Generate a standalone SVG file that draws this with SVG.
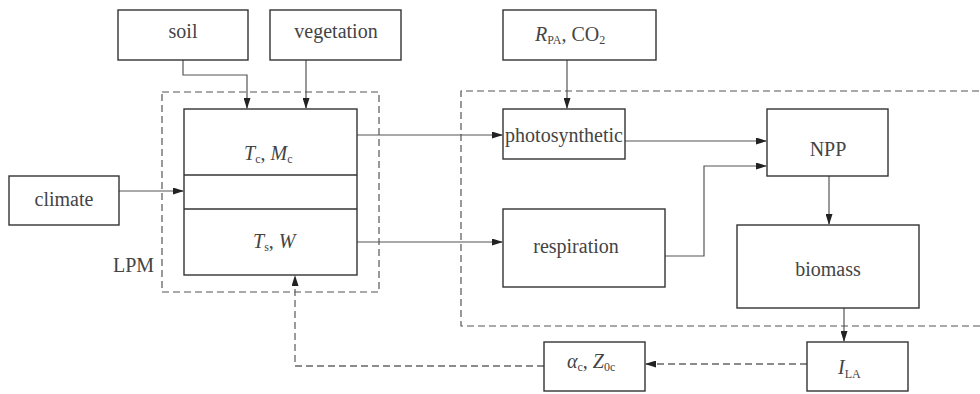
<svg xmlns="http://www.w3.org/2000/svg" width="980" height="394" viewBox="0 0 980 394">
<style>
.box{fill:#fff;stroke:#333;stroke-width:1.4}
.grp{fill:none;stroke:#555;stroke-width:1.2;stroke-dasharray:7 4}
.ln{fill:none;stroke:#555;stroke-width:1.2}
.dl{fill:none;stroke:#666;stroke-width:1.3;stroke-dasharray:7 4}
text{font-size:20px;fill:#444}
.c{text-anchor:middle}
.it{font-style:italic}
.sub{font-size:12px;font-style:normal}
</style>
<defs>
<marker id="ah" markerWidth="11" markerHeight="7" refX="10" refY="3.5" orient="auto" markerUnits="userSpaceOnUse">
<path d="M0,0 L11,3.5 L0,7 z" fill="#222"/>
</marker>
<marker id="ahs" markerWidth="11" markerHeight="7" refX="10" refY="3.5" orient="auto-start-reverse" markerUnits="userSpaceOnUse">
<path d="M0,0 L11,3.5 L0,7 z" fill="#222"/>
</marker>
</defs>
<g id="groups">
<rect class="grp" x="162" y="92" width="217" height="200"/>
<path class="grp" d="M990,91 H461 V326 H990"/>
</g>
<g id="connectors">
<path class="ln" d="M183,60 V75 H247 V108" marker-end="url(#ah)"/>
<path class="ln" d="M306,60 V108" marker-end="url(#ah)"/>
<path class="ln" d="M119,191 H183" marker-end="url(#ah)"/>
<path class="ln" d="M272,176 V208" marker-start="url(#ahs)" marker-end="url(#ahs)"/>
<path class="ln" d="M357,135 H502" marker-end="url(#ah)"/>
<path class="ln" d="M357,242 H502" marker-end="url(#ah)"/>
<path class="ln" d="M567,60 V108" marker-end="url(#ah)"/>
<path class="ln" d="M625,141 H766" marker-end="url(#ah)"/>
<path class="ln" d="M665,256 H704 V166 H766" marker-end="url(#ah)"/>
<path class="ln" d="M829,176 V224" marker-end="url(#ah)"/>
<path class="ln" d="M844,308 V341" marker-end="url(#ah)"/>
<path class="dl" d="M807,364 H646" marker-end="url(#ah)"/>
<path class="dl" d="M544,366 H295 V276" marker-end="url(#ah)"/>
</g>
<g id="labels" font-family="Liberation Serif, Times New Roman, DejaVu Serif, serif">
<g id="soil"><rect class="box" x="118" y="10" width="130" height="50"/><text class="c" x="183" y="38">soil</text></g>
<g id="vegetation"><rect class="box" x="270" y="10" width="131" height="50"/><text class="c" x="336" y="38">vegetation</text></g>
<g id="climate"><rect class="box" x="9" y="176" width="110" height="49"/><text class="c" x="64" y="206">climate</text></g>
<g id="lpm">
<rect class="box" x="184" y="109" width="173" height="166"/>
<line class="box" x1="184" y1="175" x2="357" y2="175"/>
<line class="box" x1="184" y1="209" x2="357" y2="209"/>
<text x="244" y="160"><tspan class="it">T</tspan><tspan class="sub" dy="3">c</tspan><tspan dy="-3">, </tspan><tspan class="it">M</tspan><tspan class="sub" dy="3">c</tspan></text>
<text x="253" y="248"><tspan class="it">T</tspan><tspan class="sub" dy="3">s</tspan><tspan dy="-3">, </tspan><tspan class="it">W</tspan></text>
<text x="113" y="272">LPM</text>
</g>
<g id="rpa"><rect class="box" x="503" y="10" width="153" height="50"/><text x="535" y="41"><tspan class="it">R</tspan><tspan class="sub" dy="3">PA</tspan><tspan dy="-3">, CO</tspan><tspan class="sub" dy="3">2</tspan></text></g>
<g id="photosynthetic"><rect class="box" x="503" y="109" width="122" height="50"/><text class="c" x="564" y="142">photosynthetic</text></g>
<g id="npp"><rect class="box" x="767" y="109" width="121" height="67"/><text class="c" x="828" y="156">NPP</text></g>
<g id="respiration"><rect class="box" x="503" y="209" width="162" height="78"/><text class="c" x="576" y="253">respiration</text></g>
<g id="biomass"><rect class="box" x="737" y="225" width="182" height="83"/><text class="c" x="828" y="276">biomass</text></g>
<g id="ila"><rect class="box" x="807" y="342" width="101" height="49"/><text x="838" y="374"><tspan class="it">I</tspan><tspan class="sub" dy="4">LA</tspan></text></g>
<g id="alpha"><rect class="box" x="544" y="342" width="101" height="49"/><text x="567" y="368"><tspan class="it">α</tspan><tspan class="sub" dy="3">c</tspan><tspan dy="-3">, </tspan><tspan class="it">Z</tspan><tspan class="sub" dy="3">0c</tspan></text></g>
</g>
</svg>
